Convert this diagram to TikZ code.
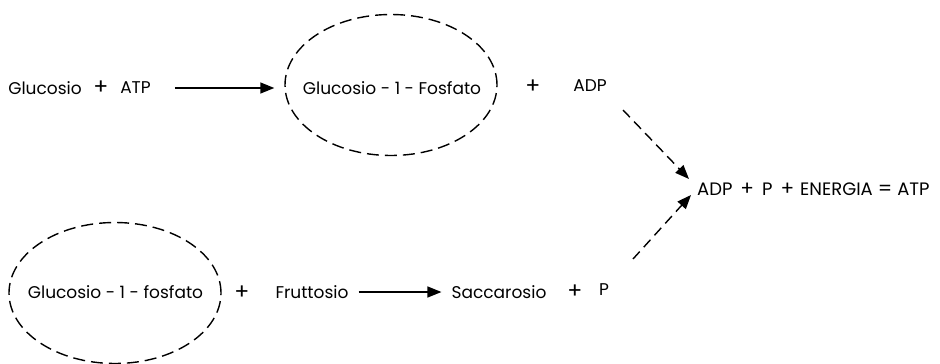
\documentclass[tikz,border=0pt]{standalone}
\usepackage{fontspec}
\setmainfont{Poppins}
\usetikzlibrary{arrows.meta,shapes.geometric,positioning}

\newcommand{\bigsign}[1]{{\fontsize{20}{20}\selectfont #1}}

\begin{document}
\begin{tikzpicture}[x=1pt,y=-1pt,font=\fontsize{17}{20}\selectfont]
  \tikzstyle{every node}=[inner sep=1pt]
  \tikzstyle{pool}=[ellipse,draw,dash pattern=on 12pt off 6pt,line width=1.4pt,
                    minimum width=212pt,minimum height=141pt,inner sep=0pt]
  \tikzstyle{plus}=[font=\fontsize{22}{22}\selectfont]
  \tikzstyle{react}=[-{Triangle[length=14pt,width=11pt]},line width=1.4pt]
  \tikzstyle{gain}=[react,dash pattern=on 10pt off 6pt]

  \useasboundingbox (0,0) rectangle (940,364);

  % glucosio fosforilato
  \node (glc)  at (45,88)   {Glucosio};
  \node[plus] (p1) at (101,88) {+};
  \node (atp)  at (135.5,88) {ATP};
  \node[pool] (g1p) at (391,85) {};
  \node (g1ptxt) at (392,88) {Glucosio - 1 - Fosfato};
  \node[plus] (p2) at (533,87) {+};
  \node (adp)  at (590,86)  {ADP};

  % saccarosio
  \node[pool] (g1pb) at (115,293) {};
  \node (g1pbtxt) at (115.5,292) {Glucosio - 1 - fosfato};
  \node[plus] (p3) at (242,293) {+};
  \node (fru)  at (312,292) {Fruttosio};
  \node (sac)  at (499,292) {Saccarosio};
  \node[plus] (p4) at (575,292) {+};
  \node (pi)   at (604,290) {P};

  % bilancio energetico
  \node[anchor=west,font=\fontsize{18}{20}\selectfont] (en) at (696,189)
    {ADP\hspace{8pt}\bigsign{+}\hspace{8pt}P\hspace{8pt}\bigsign{+}\hspace{6pt}ENERGIA\hspace{5pt}\bigsign{=}\hspace{5pt}ATP};

  \coordinate (out1) at (623,110);
  \coordinate (in1)  at (689,179);
  \coordinate (out2) at (633,259);
  \coordinate (in2)  at (691,195);

  \path[react]
  (atp) edge [shorten <=23pt,shorten >=10pt] (atp -| g1p.west)
  (fru) edge [shorten <=9pt,shorten >=9pt] (sac);

  \path[gain]
  (out1) edge (in1)
  (out2) edge (in2);
\end{tikzpicture}
\end{document}
